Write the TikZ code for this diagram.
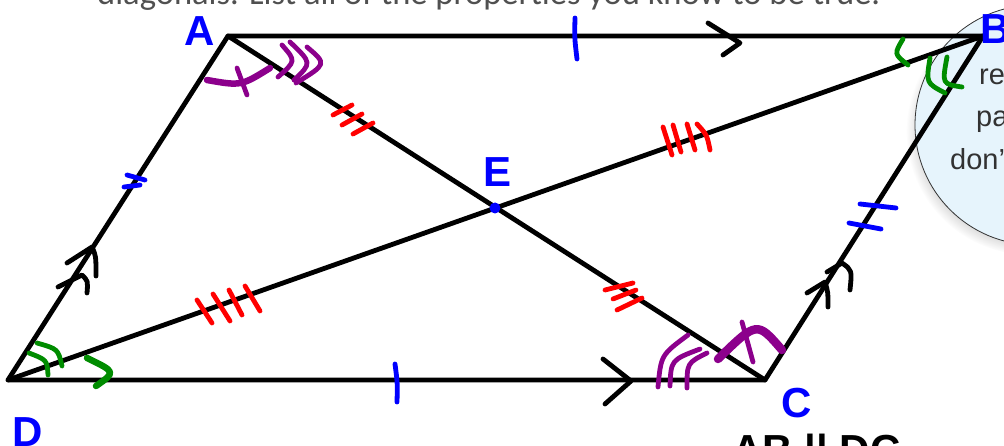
\documentclass[tikz,border=0pt]{standalone}
\usepackage{fontspec}
\setmainfont{Liberation Sans}
\newfontfamily\topfont{Carlito}
\usetikzlibrary{shadows}
\definecolor{mblue}{RGB}{0,0,255}
\definecolor{mred}{RGB}{255,0,0}
\definecolor{mpurple}{RGB}{140,0,140}
\definecolor{mgreen}{RGB}{0,140,0}
\definecolor{bubblefill}{RGB}{230,244,252}
\definecolor{tgray}{RGB}{80,80,80}
\definecolor{bgray}{RGB}{50,50,50}
\begin{document}
\begin{tikzpicture}[x=1pt,y=-1pt,
  seg/.style={line width=4.8pt, black, line cap=round, line join=round},
  mk/.style={line width=4.8pt, line cap=round, line join=round},
  thickmk/.style={line width=6.5pt, line cap=round, line join=round},
  lbl/.style={text=mblue, font=\fontsize{42}{42}\selectfont\bfseries, inner sep=0pt, anchor=base},
  btxt/.style={text=bgray, font=\fontsize{29}{29}\selectfont, inner sep=0pt, anchor=base west}]
\clip (0,0) rectangle (1004,446);
\fill[white] (0,0) rectangle (1004,446);
% cut-off question text
\node[anchor=base west, inner sep=0pt, text=tgray] (title) at (97,5)
  {\resizebox{783pt}{!}{\topfont diagonals. List all of the properties you know to be true.}};
% speech bubble
\node[circle, minimum size=240pt, inner sep=0pt, fill=bubblefill, draw=bgray, line width=0.8pt,
  circular drop shadow={shadow xshift=-5pt, shadow yshift=-6pt, opacity=0.4, shadow scale=1.03}]
  (bubble) at (1035,125) {};
\node[btxt] (t1) at (979,85) {re};
\node[btxt] (t2) at (976,127) {pa};
\node[btxt] (t3) at (950,170) {don'};
% vertices
\coordinate (A) at (228,36);
\coordinate (B) at (983,36);
\coordinate (C) at (765,380);
\coordinate (D) at (8,380);
% sides and diagonals
\draw[seg] (A) -- (B) -- (C) -- (D) -- cycle;
\draw[seg] (A) -- (C);
\draw[seg] (D) -- (B);
% parallel arrows
\draw[seg] (708,23) -- (740,43) -- (723,55);
\draw[seg] (603,359) -- (631,381) -- (605,404);
\draw[seg] (67,263) -- (92,247) .. controls (96,256) .. (96,276);
\draw[seg] (58,287) -- (82,275) .. controls (88,281) .. (87,293);
\draw[seg] (827,272) -- (842,263) .. controls (852,270) .. (850,290);
\draw[seg] (807,293) -- (825,282) .. controls (828,292) .. (828,307);
% equal-length ticks (blue)
\draw[mk, mblue] (575,18) .. controls (574.5,38) .. (577,59);
\draw[mk, mblue] (395,364) .. controls (397.5,383) .. (397,402);
\draw[mk, mblue] (127,175) -- (145,180);
\draw[mk, mblue] (124,187) -- (140,185);
\draw[mk, mblue] (860,204) -- (896,208);
\draw[mk, mblue] (849,223) -- (881,229);
% diagonal ticks (red)
\draw[mk, mred] (333,115) -- (352,105);
\draw[mk, mred] (342,125) -- (362,114);
\draw[mk, mred] (353,134) -- (373,123);
\draw[mk, mred] (605,290) -- (633,283);
\draw[mk, mred] (613,299) -- (636,290);
\draw[mk, mred] (617,310) -- (642,298);
\draw[mk, mred] (197,300) -- (212,323);
\draw[mk, mred] (213,294) -- (230,321);
\draw[mk, mred] (229,290) -- (242,315);
\draw[mk, mred] (245,286) -- (260,311);
\draw[mk, mred] (663,127) -- (672,155);
\draw[mk, mred] (673,125) -- (681,152);
\draw[mk, mred] (687,124) -- (695,150);
\draw[mk, mred] (697,124) .. controls (707,135) .. (710,150);
% angle marks (purple)
\draw[thickmk, mpurple] (207,80) .. controls (241,86) .. (270,68);
\draw[mk, mpurple] (237,68) -- (247,95);
\draw[mk, mpurple] (282,45) .. controls (296,61) .. (278,77);
\draw[mk, mpurple] (290,42) .. controls (312,63) .. (294,80);
\draw[mk, mpurple] (307,47) .. controls (327,64) .. (296,83);
\draw[line width=8.5pt, line cap=round, mpurple] (718,359) .. controls (757,321) .. (782,350);
\draw[mk, mpurple] (742,322) -- (753,362);
\draw[mk, mpurple] (688,335) .. controls (661,355) .. (658,387);
\draw[mk, mpurple] (700,349) .. controls (671,360) .. (670,386);
\draw[mk, mpurple] (707,353) .. controls (687,363) .. (687,388);
% angle marks (green)
\draw[mk, mgreen] (903,39) .. controls (894,54) .. (908,65);
\draw[mk, mgreen] (930,58) .. controls (926,83) .. (945,93);
\draw[mk, mgreen] (947,57) .. controls (942,84) .. (962,87);
\draw[mk, mgreen] (29,353) .. controls (47,360) .. (48,375);
\draw[mk, mgreen] (37,343) .. controls (58,349) .. (62,366);
\draw[thickmk, mgreen] (87,358) .. controls (116,372) .. (96,386);
% intersection point
\node[circle, fill=mblue, inner sep=0pt, minimum size=11pt] (E) at (495,208) {};
% labels
\node[lbl] (lA) at (200,46) {A};
\node[lbl] (lB) at (996,44) {B};
\node[lbl] (lC) at (797,417) {C};
\node[lbl] (lD) at (28,446) {D};
\node[lbl] (lE) at (498,187) {E};
% cut-off note below
\node[anchor=base west, inner sep=0pt, font=\fontsize{42}{42}\selectfont\bfseries] (note) at (732,464) {AB || DC};
\end{tikzpicture}
\end{document}
